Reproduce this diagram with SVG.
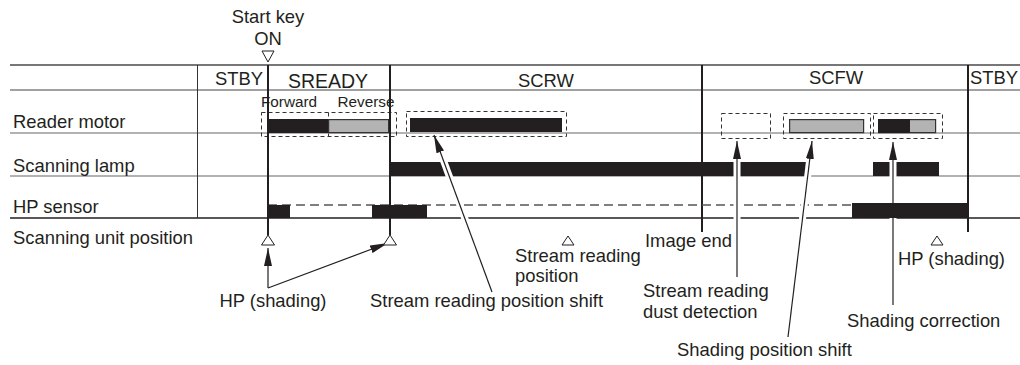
<svg xmlns="http://www.w3.org/2000/svg" width="1020" height="365" viewBox="0 0 1020 365">
<style>
text{font-family:"Liberation Sans",Arial,sans-serif;fill:#231f20;font-size:18.4px}
.sm{font-size:15.3px}
.mid{text-anchor:middle}
.row{stroke:#666;stroke-width:1.2;fill:none}
.vl{stroke:#231f20;stroke-width:2;fill:none}
.box{stroke:#333;stroke-width:1;stroke-dasharray:4 3;fill:none}
.blk{fill:#231f20}
.gry{fill:#b3b3b3;stroke:#333;stroke-width:1.2}
.tri{fill:#fff;stroke:#231f20;stroke-width:1}
.halo{stroke:#fff;stroke-width:7;fill:none}
.arr{stroke:#231f20;stroke-width:1.2;fill:none;marker-end:url(#ah)}
</style>
<defs>
<marker id="ah" viewBox="0 0 18 8" refX="18" refY="4" markerWidth="18" markerHeight="8" markerUnits="userSpaceOnUse" orient="auto">
<path d="M0,0 L18,4 L0,8 Z" fill="#231f20"/>
</marker>
</defs>
<rect width="1020" height="365" fill="#fff"/>

<g id="grid">
<line x1="10" y1="65" x2="1020" y2="65" stroke="#777" stroke-width="2.2"/>
<line x1="10" y1="90" x2="1020" y2="90" stroke="#444" stroke-width="1.2"/>
<line class="row" x1="10" y1="133" x2="1020" y2="133"/>
<line class="row" x1="10" y1="176" x2="1020" y2="176"/>
<line x1="10" y1="218" x2="1020" y2="218" stroke="#231f20" stroke-width="1.3"/>
<line x1="197.5" y1="65" x2="197.5" y2="218" stroke="#333" stroke-width="1"/>
<line class="vl" x1="702" y1="65" x2="702" y2="232"/>
<line class="vl" x1="968" y1="65" x2="968" y2="232"/>
</g>

<g id="header">
<text class="mid" x="268" y="23">Start key</text>
<text class="mid" x="268" y="45">ON</text>
<polygon class="tri" points="262,51 274,51 268,62"/>
<text class="mid" x="239" y="85">STBY</text>
<text class="mid" x="328" y="88" style="font-size:19.5px">SREADY</text>
<text class="mid" x="546" y="87">SCRW</text>
<text class="mid" x="836" y="84">SCFW</text>
<text x="970" y="84">STBY</text>
</g>

<g id="labels">
<text x="13" y="128">Reader motor</text>
<text x="13" y="172">Scanning lamp</text>
<text x="13" y="213">HP sensor</text>
<text x="13" y="244">Scanning unit position</text>
</g>

<g id="reader-motor">
<text class="sm mid" x="289" y="107">Forward</text>
<text class="sm mid" x="366" y="107">Reverse</text>
<rect class="box" x="261.5" y="112.5" width="135" height="24"/>
<line class="box" x1="328.5" y1="112.5" x2="328.5" y2="136.5"/>
<rect class="blk" x="268" y="119" width="60" height="14"/>
<rect class="gry" x="328.6" y="119.6" width="60" height="13"/>
<rect class="box" x="406.5" y="111.5" width="160" height="25"/>
<rect class="blk" x="410" y="118" width="152" height="14"/>
<rect class="box" x="721.5" y="113.5" width="49" height="25"/>
<rect class="box" x="783.5" y="113.5" width="87" height="25"/>
<rect class="gry" x="789.6" y="119.6" width="74" height="13"/>
<rect class="box" x="873.5" y="113.5" width="69" height="25"/>
<rect class="gry" x="878.6" y="119.6" width="57" height="13"/>
<rect class="blk" x="878" y="119" width="32" height="14"/>
</g>

<g id="scanning-lamp">
<rect class="blk" x="390" y="162" width="418" height="14"/>
<rect class="blk" x="873" y="162" width="66" height="14"/>
</g>

<g id="hp-sensor">
<line x1="268" y1="205" x2="852" y2="205" stroke="#555" stroke-width="1.3" stroke-dasharray="9 5"/>
<rect class="blk" x="268" y="205" width="22" height="13"/>
<rect class="blk" x="372" y="205" width="55" height="13"/>
</g>

<g id="connectors">
<line class="halo" x1="492" y1="292" x2="437" y2="143"/>
<line class="halo" x1="737" y1="277" x2="737" y2="141"/>
<line class="halo" x1="788" y1="337" x2="812" y2="141"/>
<line class="halo" x1="893" y1="305" x2="893" y2="142"/>
<line class="arr" x1="268" y1="288" x2="268" y2="248"/>
<line class="arr" x1="268" y1="288" x2="388" y2="243"/>
<line class="arr" x1="492" y1="292" x2="434" y2="135"/>
<line class="arr" x1="737" y1="277" x2="737" y2="141"/>
<line class="arr" x1="788" y1="337" x2="812" y2="141"/>
<line class="arr" x1="893" y1="305" x2="893" y2="142"/>
</g>

<g id="hp-sensor-end">
<rect class="blk" x="852" y="203" width="116" height="15"/>
</g>

<g id="unit-position">
<line class="vl" x1="268" y1="65" x2="268" y2="235"/>
<line class="vl" x1="390" y1="65" x2="390" y2="235"/>
<polygon class="tri" points="268,235 261.5,245 274.5,245"/>
<polygon class="tri" points="390,235 383.5,245 396.5,245"/>
<polygon class="tri" points="568,236 562,245 574,245"/>
<polygon class="tri" points="937,236 931,245 943,245"/>
</g>

<g id="annotations">
<text class="mid" x="273" y="307">HP (shading)</text>
<text x="370" y="307">Stream reading position shift</text>
<text x="515" y="262">Stream reading</text>
<text x="515" y="282">position</text>
<text x="645" y="247">Image end</text>
<text x="643" y="297">Stream reading</text>
<text x="643" y="318">dust detection</text>
<text x="677" y="356">Shading position shift</text>
<text x="847" y="327">Shading correction</text>
<text x="898" y="265">HP (shading)</text>
</g>
</svg>
